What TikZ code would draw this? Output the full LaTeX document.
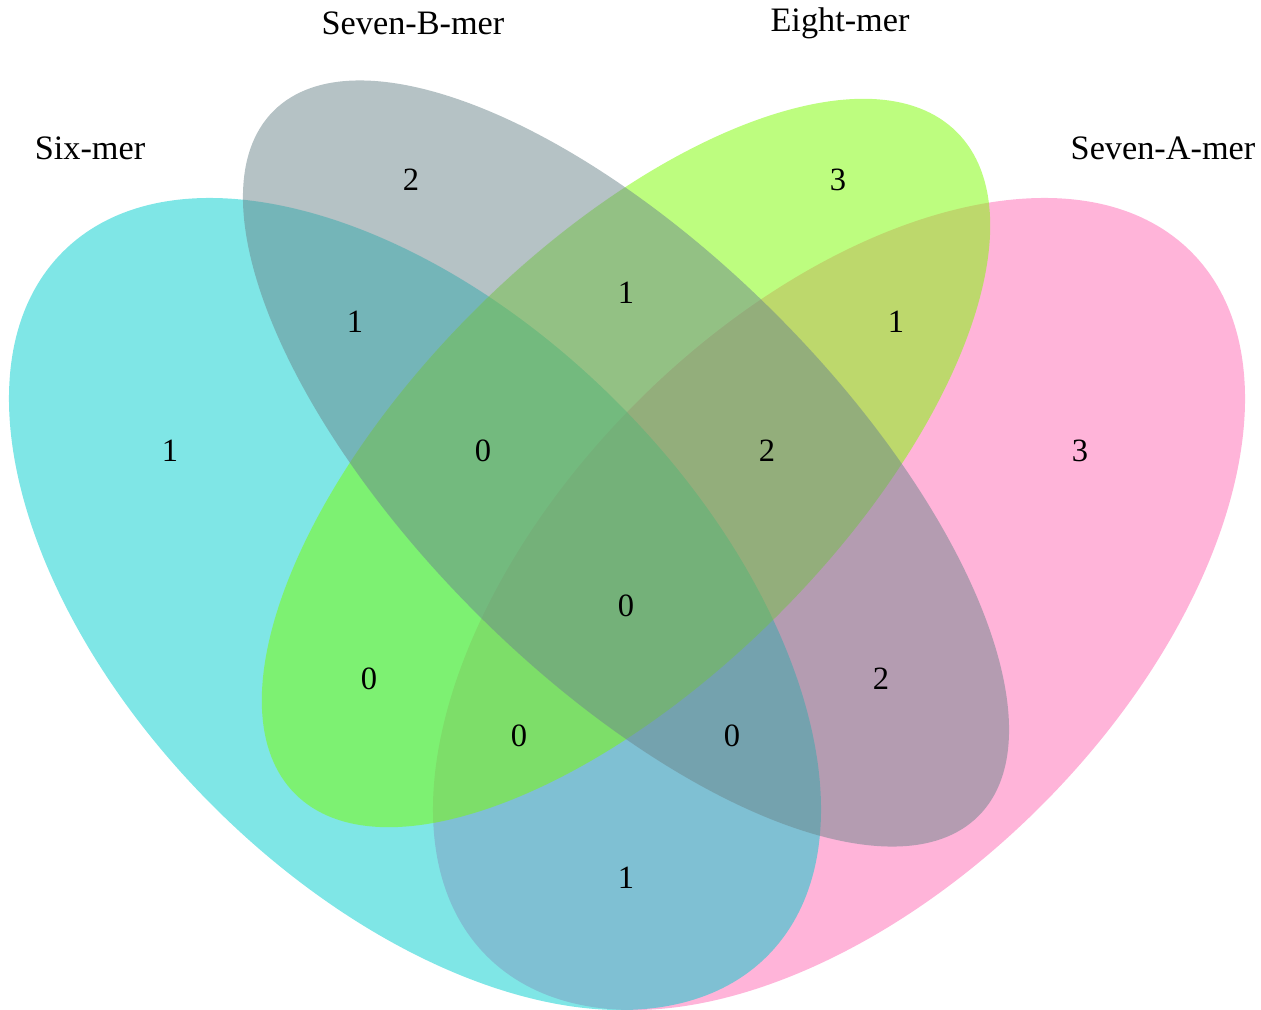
\documentclass[tikz,border=0pt]{standalone}
\usepackage{fontspec}
\setmainfont{Liberation Serif}
\definecolor{cyanB}{RGB}{0,205,205}
\definecolor{pinkB}{RGB}{255,105,180}
\definecolor{grayB}{RGB}{107,133,139}
\definecolor{greenB}{RGB}{124,252,0}
\begin{document}
\begin{tikzpicture}[x=0.02cm,y=-0.02cm,
  setfill/.style={fill opacity=0.5},
  lab/.style={inner sep=0pt,font=\fontsize{19.5}{23}\selectfont},
  num/.style={inner sep=0pt,font=\fontsize{18.5}{22}\selectfont}]
\useasboundingbox (0,0) rectangle (1261,1010);
% ellipses (drawn in this order: pink, cyan, green, gray)
\fill[pinkB,setfill,shift={(839,604)},rotate=45] (0,0) ellipse [x radius=9.962cm, y radius=5.714cm];
\fill[cyanB,setfill,shift={(415,604)},rotate=-45] (0,0) ellipse [x radius=9.962cm, y radius=5.714cm];
\fill[greenB,setfill,shift={(626,463)},rotate=45] (0,0) ellipse [x radius=9.36cm, y radius=4.30cm];
\fill[grayB,setfill,shift={(626,463.5)},rotate=-45] (0,0) ellipse [x radius=9.972cm, y radius=4.234cm];
% set labels
\node[lab] (l1) at (90,148) {Six-mer};
\node[lab] (l2) at (413,23) {Seven-B-mer};
\node[lab] (l3) at (840,23) {Eight-mer};
\node[lab] (l4) at (1163,148) {Seven-A-mer};
% counts
\node[num] (n1) at (411,180) {2};
\node[num] (n2) at (838,180) {3};
\node[num] (n3) at (355,322) {1};
\node[num] (n4) at (626,293) {1};
\node[num] (n5) at (896,322) {1};
\node[num] (n6) at (170,451) {1};
\node[num] (n7) at (483,451) {0};
\node[num] (n8) at (767,451) {2};
\node[num] (n9) at (1080,451) {3};
\node[num] (n10) at (626,606) {0};
\node[num] (n11) at (369,679) {0};
\node[num] (n12) at (881,679) {2};
\node[num] (n13) at (519,736) {0};
\node[num] (n14) at (732,736) {0};
\node[num] (n15) at (626,878) {1};
\end{tikzpicture}
\end{document}
